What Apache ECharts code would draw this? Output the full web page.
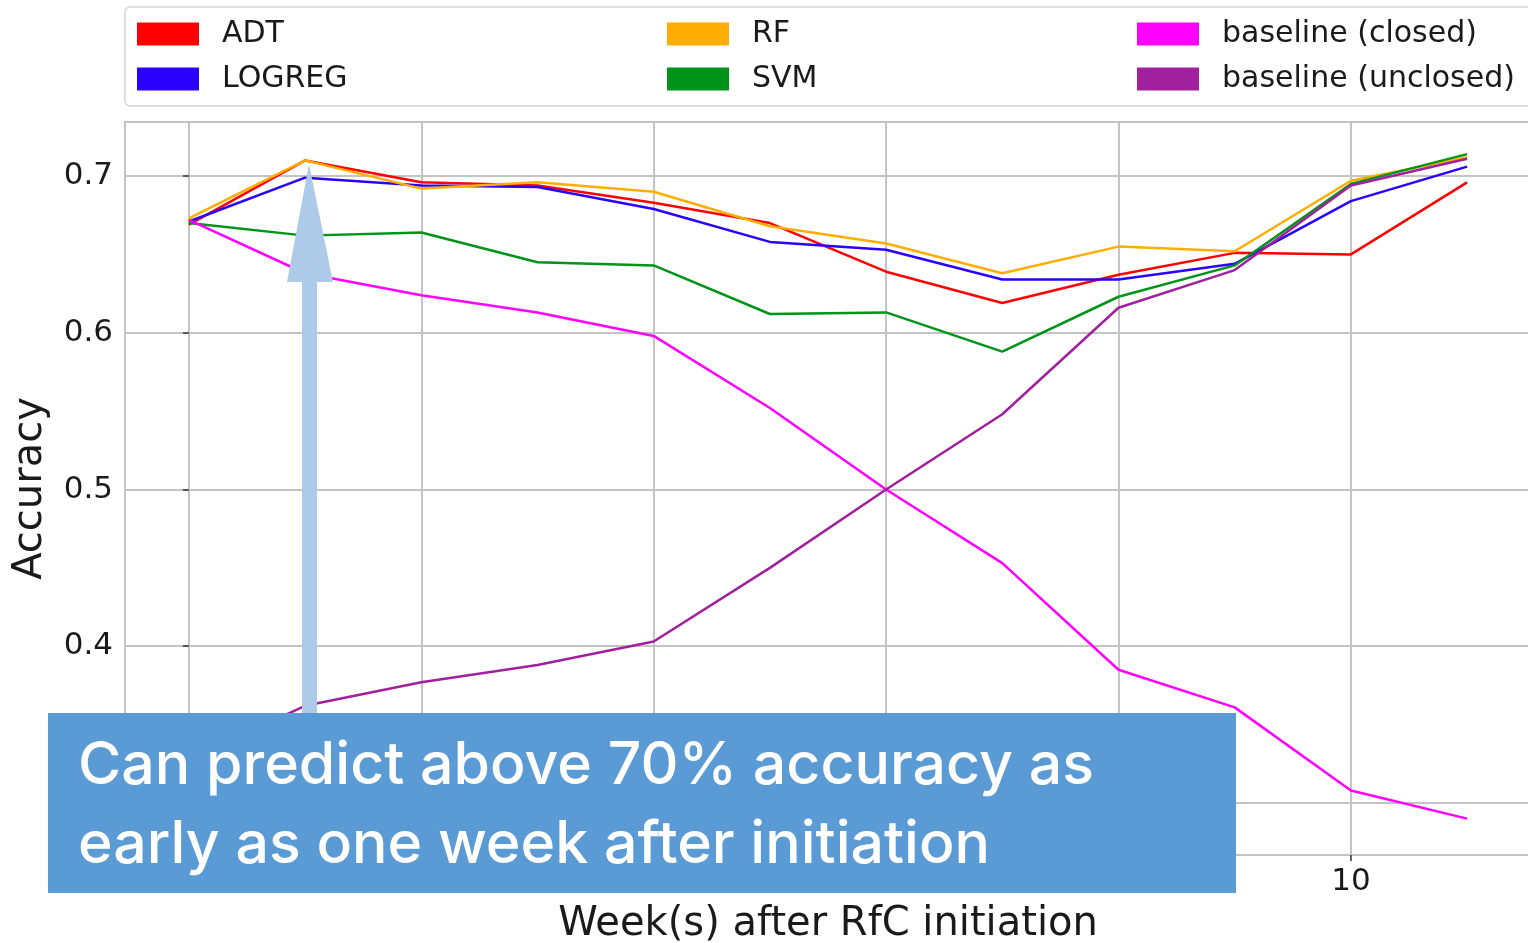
<!DOCTYPE html>
<html>
<head>
<meta charset="utf-8">
<script src="https://cdn.jsdelivr.net/npm/echarts@6/dist/echarts.min.js"></script>
<style>
html,body{margin:0;padding:0;background:#fff;}
#chart{width:1528px;height:943px;}
</style>
</head>
<body>
<div id="chart"></div>
<script>
// ---- data ----
var weeks = [0, 1, 2, 3, 4, 5, 6, 7, 8, 9, 10, 11];
var seriesNames = ['ADT', 'LOGREG', 'RF', 'SVM', 'baseline (closed)', 'baseline (unclosed)'];
var adtValues      = [0.669, 0.710, 0.696, 0.694, 0.683, 0.670, 0.639, 0.619, 0.637, 0.651, 0.650, 0.696];
var logregValues   = [0.671, 0.699, 0.694, 0.693, 0.679, 0.658, 0.653, 0.634, 0.634, 0.644, 0.684, 0.706];
var rfValues       = [0.673, 0.710, 0.692, 0.696, 0.690, 0.668, 0.657, 0.638, 0.655, 0.652, 0.697, 0.712];
var svmValues      = [0.670, 0.662, 0.664, 0.645, 0.643, 0.612, 0.613, 0.588, 0.623, 0.643, 0.695, 0.714];
var baselineClosed   = [0.672, 0.638, 0.624, 0.613, 0.598, 0.552, 0.500, 0.453, 0.385, 0.361, 0.308, 0.290];
var baselineUnclosed = [0.328, 0.362, 0.377, 0.388, 0.403, 0.450, 0.500, 0.548, 0.616, 0.640, 0.694, 0.711];
var xTickValues = [0, 2, 4, 6, 8, 10];
var yTickValues = [0.3, 0.4, 0.5, 0.6, 0.7];
var noteLines = ['Can predict above 70% accuracy as', 'early as one week after initiation'];

var colors = ['#ff0000', '#2a00ff', '#ffae00', '#00931a', '#ff00ff', '#a0209e'];
var allData = [adtValues, logregValues, rfValues, svmValues, baselineClosed, baselineUnclosed];

function pairs(ys) { return weeks.map(function (w, i) { return [w, ys[i]]; }); }

var chart = echarts.init(document.getElementById('chart'), null, {renderer: 'canvas'});

var legendText = {fontFamily: 'DejaVu Sans', fontSize: 30, color: '#1a1a1a', lineHeight: 30, padding: [0, 0, 0, 18]};
function legendCol(left, names) {
  return {
    orient: 'vertical', left: left, top: 19, icon: 'rect',
    itemWidth: 62, itemHeight: 23, itemGap: 15, padding: 0,
    textStyle: legendText, data: names, selectedMode: false, z: 10
  };
}

var option = {
  backgroundColor: '#ffffff',
  animation: false,
  color: colors,
  grid: {left: 125, top: 122, width: 1406, height: 733, show: true,
         borderColor: '#333', borderWidth: 1.5, containLabel: false,
         outerBoundsMode: 'none'},
  legend: [
    legendCol(137, [seriesNames[0], seriesNames[1]]),
    legendCol(667, [seriesNames[2], seriesNames[3]]),
    legendCol(1137, [seriesNames[4], seriesNames[5]])
  ],
  xAxis: {
    type: 'value', min: -0.55, max: 11.55, splitNumber: 6,
    name: 'Week(s) after RfC initiation', nameLocation: 'middle', nameGap: 50,
    nameTextStyle: {fontFamily: 'DejaVu Sans', fontSize: 40, color: '#1a1a1a'},
    axisLine: {show: false},
    axisTick: {show: true, length: 6, lineStyle: {color: '#333', width: 1.5}},
    axisLabel: {showMinLabel: false, showMaxLabel: false, margin: 11,
      fontFamily: 'DejaVu Sans', fontSize: 31, color: '#1a1a1a',
      formatter: function (v) { return xTickValues.indexOf(v) >= 0 ? String(v) : ''; }},
    splitLine: {show: true, lineStyle: {color: '#c4c4c4', width: 2}}
  },
  yAxis: {
    type: 'value', min: 0.2668, max: 0.7345, splitNumber: 5,
    name: 'Accuracy', nameLocation: 'middle', nameGap: 74,
    nameTextStyle: {fontFamily: 'DejaVu Sans', fontSize: 40, color: '#1a1a1a'},
    axisLine: {show: false},
    axisTick: {show: true, length: 6, lineStyle: {color: '#333', width: 1.5}},
    axisLabel: {showMinLabel: false, showMaxLabel: false, margin: 12,
      fontFamily: 'DejaVu Sans', fontSize: 31, color: '#1a1a1a',
      formatter: function (v) {
        var r = Math.round(v * 10) / 10;
        return yTickValues.indexOf(r) >= 0 && Math.abs(r - v) < 1e-6 ? r.toFixed(1) : '';
      }},
    splitLine: {show: true, lineStyle: {color: '#c4c4c4', width: 2}}
  },
  series: allData.map(function (d, i) {
    return {
      name: seriesNames[i], type: 'line', data: pairs(d),
      symbol: 'none', lineStyle: {width: 2.5, color: colors[i]},
      itemStyle: {color: colors[i]}, z: 2 + i * 0.1
    };
  }),
  graphic: [
    {type: 'rect', z: 1, shape: {x: 125, y: 7, width: 1420, height: 99, r: 5},
     style: {fill: '#ffffff', stroke: '#d4d4d4', lineWidth: 1.5}},
    {type: 'polygon', z: 100,
     shape: {points: [[309, 164], [333, 282], [317, 282], [317, 714], [302, 714], [302, 282], [287, 282]]},
     style: {fill: '#adcbe8'}},
    {type: 'rect', z: 101, shape: {x: 48, y: 713, width: 1188, height: 180},
     style: {fill: '#5b9bd5'}},
    {type: 'text', z: 102, x: 78, y: 766,
     style: {text: noteLines[0], fill: '#ffffff', font: '500 59px Inter', verticalAlign: 'middle', align: 'left'}},
    {type: 'text', z: 102, x: 78, y: 845,
     style: {text: noteLines[1], fill: '#ffffff', font: '500 59px Inter', verticalAlign: 'middle', align: 'left'}}
  ]
};
chart.setOption(option);
</script>
</body>
</html>
